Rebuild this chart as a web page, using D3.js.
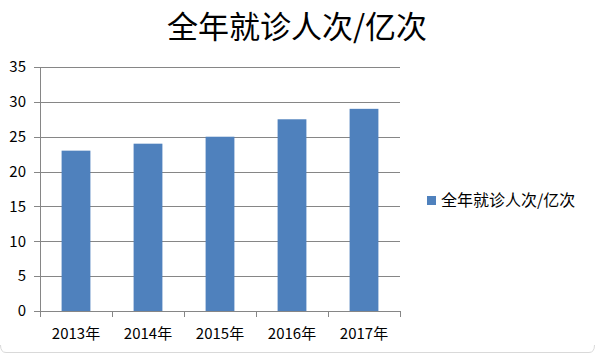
<!DOCTYPE html>
<html>
<head>
<meta charset="utf-8">
<script src="https://cdn.jsdelivr.net/npm/d3@7"></script>
<style>
  body { margin: 0; background: #fff; }
  text { font-family: "Noto Sans CJK SC", "DejaVu Sans", sans-serif; }
</style>
</head>
<body>
<div id="chart"></div>
<script>
const years = ["2013年", "2014年", "2015年", "2016年", "2017年"];
const visits = [23, 24, 25, 27.5, 29];
const yTicks = [0, 5, 10, 15, 20, 25, 30, 35];
const seriesName = "全年就诊人次/亿次";

const width = 595, height = 355;
const margin = { left: 40, right: 195, top: 67, bottom: 44 };

const svg = d3.select("#chart").append("svg")
    .attr("width", width)
    .attr("height", height);

// only the bottom edge of the chart frame shows
svg.append("path")
    .attr("d", "M0.5,345 Q0.5,352.5 6,352.5 L589,352.5 Q594.5,352.5 594.5,345")
    .attr("fill", "none")
    .attr("stroke", "#d9d9d9");

const x = d3.scaleBand()
    .domain(years)
    .range([margin.left, width - margin.right])
    .paddingInner(0.6)
    .paddingOuter(0.3);

const y = d3.scaleLinear()
    .domain([0, 35])
    .range([height - margin.bottom, margin.top]);

// gridlines
svg.append("g")
    .selectAll("line")
    .data(yTicks)
    .enter().append("line")
    .attr("x1", margin.left - 6)
    .attr("x2", width - margin.right)
    .attr("y1", d => Math.round(y(d)) + 0.5)
    .attr("y2", d => Math.round(y(d)) + 0.5)
    .attr("stroke", "#868686");

// bars
svg.append("g")
    .selectAll("rect")
    .data(visits)
    .enter().append("rect")
    .attr("x", (d, i) => x(years[i]))
    .attr("y", d => y(d))
    .attr("width", x.bandwidth())
    .attr("height", d => y(0) - y(d))
    .attr("fill", "#4f81bd");

// y axis line
svg.append("line")
    .attr("x1", margin.left + 0.5).attr("x2", margin.left + 0.5)
    .attr("y1", y(35)).attr("y2", y(0))
    .attr("stroke", "#868686");

// y labels
svg.append("g")
    .selectAll("text")
    .data(yTicks)
    .enter().append("text")
    .attr("x", 26)
    .attr("y", d => y(d))
    .attr("dy", "0.35em")
    .attr("text-anchor", "end")
    .attr("font-size", 15)
    .attr("fill", "#000")
    .text(d => d);

// x tick marks at band boundaries
const bounds = d3.range(years.length + 1).map(i => margin.left + i * (width - margin.right - margin.left) / years.length);
svg.append("g")
    .selectAll("line")
    .data(bounds)
    .enter().append("line")
    .attr("x1", d => Math.round(d) + 0.5)
    .attr("x2", d => Math.round(d) + 0.5)
    .attr("y1", y(0))
    .attr("y2", y(0) + 6)
    .attr("stroke", "#868686");

// x labels
svg.append("g")
    .selectAll("text")
    .data(years)
    .enter().append("text")
    .attr("x", d => x(d) + x.bandwidth() / 2)
    .attr("y", y(0) + 28)
    .attr("text-anchor", "middle")
    .attr("font-size", 15)
    .attr("fill", "#000")
    .text(d => d);

// title
svg.append("text")
    .attr("x", 297)
    .attr("y", 38)
    .attr("text-anchor", "middle")
    .attr("font-size", 31)
    .attr("fill", "#000")
    .text(seriesName);

// legend
const legend = svg.append("g").attr("transform", "translate(427,196)");
legend.append("rect")
    .attr("width", 9).attr("height", 9)
    .attr("fill", "#4f81bd");
legend.append("text")
    .attr("x", 14)
    .attr("y", 4)
    .attr("dy", "0.35em")
    .attr("font-size", 16)
    .attr("fill", "#000")
    .text(seriesName);
</script>
</body>
</html>
